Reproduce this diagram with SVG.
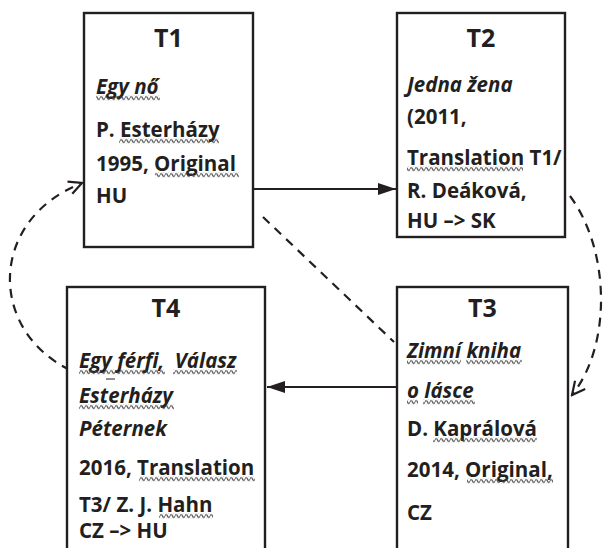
<svg xmlns="http://www.w3.org/2000/svg" width="604" height="548" viewBox="0 0 604 548">
<style>
.box{fill:#fff;stroke:#231f20;stroke-width:2.4}
.title{font-family:"Open Sans","Noto Sans",sans-serif;font-weight:700;font-size:25px;fill:#231f20;text-anchor:middle}
.t{font-family:"Open Sans","Noto Sans",sans-serif;font-weight:700;font-size:20.5px;fill:#231f20}
.i{font-style:italic}
.wv{fill:url(#wave)}
.solid{fill:none;stroke:#231f20;stroke-width:2.2}
.dash{fill:none;stroke:#231f20;stroke-width:2.2;stroke-dasharray:9 7}
</style>
<defs>
<pattern id="wave" x="0" y="0" width="5" height="5" patternUnits="userSpaceOnUse">
<path d="M-0.2,2.5 C0.9,0.4 1.6,0.4 2.5,2.5 S4.1,4.6 5.2,2.5" fill="none" stroke="#3c3c3c" stroke-width="1.1"/>
</pattern>
<marker id="fa" viewBox="0 0 18 12" refX="18" refY="6" markerWidth="18" markerHeight="12" markerUnits="userSpaceOnUse" orient="auto">
<path d="M0,0 L18,6 L0,12 z" fill="#231f20"/>
</marker>
<marker id="oa" viewBox="0 0 16 16" refX="14.5" refY="8" markerWidth="16" markerHeight="16" markerUnits="userSpaceOnUse" orient="auto">
<path d="M1.5,1.5 L14.5,8 L1.5,14.5" fill="none" stroke="#231f20" stroke-width="2.2"/>
</marker>
</defs>
<g id="connectors">
<line class="solid" x1="254" y1="189" x2="396" y2="189" marker-end="url(#fa)"/>
<line class="solid" x1="396" y1="387" x2="267" y2="387" marker-end="url(#fa)"/>
<line class="dash" x1="263" y1="217" x2="394" y2="342"/>
<path class="dash" d="M570,196 C610,250 612,345 572,395" marker-end="url(#oa)"/>
<path class="dash" d="M70,370 C-12,330 -12,220 82,183" marker-end="url(#oa)"/>
</g>
<g id="T1">
<rect class="box" x="84" y="13" width="169" height="234"/>
<text class="title" x="168.5" y="47">T1</text>
<text class="t i" x="96" y="94">Egy nő</text>
<rect class="wv" x="96" y="0" width="64" height="5" transform="translate(0,95.5)"/>
<text class="t" x="96" y="137">P. Esterházy</text>
<rect class="wv" x="119" y="0" width="100" height="5" transform="translate(0,138.5)"/>
<text class="t" x="96" y="171">1995, Original</text>
<rect class="wv" x="155" y="0" width="84" height="5" transform="translate(0,172.5)"/>
<text class="t" x="96" y="203">HU</text>
</g>
<g id="T2">
<rect class="box" x="397" y="13" width="168" height="224"/>
<text class="title" x="481" y="47">T2</text>
<text class="t i" x="407" y="92">Jedna žena</text>
<text class="t" x="407" y="124">(2011,</text>
<text class="t" x="407" y="165">Translation T1/</text>
<rect class="wv" x="407" y="0" width="116" height="5" transform="translate(0,166.5)"/>
<text class="t" x="407" y="198">R. Deáková,</text>
<text class="t" x="407" y="228">HU –&gt; SK</text>
</g>
<g id="T3">
<rect class="box" x="397" y="287" width="171" height="280"/>
<text class="title" x="482.5" y="317">T3</text>
<text class="t i" x="407" y="358">Zimní kniha</text>
<rect class="wv" x="407" y="0" width="54" height="5" transform="translate(0,359.5)"/>
<rect class="wv" x="466" y="0" width="56" height="5" transform="translate(0,359.5)"/>
<text class="t i" x="407" y="398">o lásce</text>
<rect class="wv" x="407" y="0" width="11" height="5" transform="translate(0,399.5)"/>
<rect class="wv" x="423" y="0" width="52" height="5" transform="translate(0,399.5)"/>
<text class="t" x="407" y="436">D. Kaprálová</text>
<rect class="wv" x="433" y="0" width="104" height="5" transform="translate(0,437.5)"/>
<text class="t" x="407" y="477">2014, Original,</text>
<rect class="wv" x="467" y="0" width="86" height="5" transform="translate(0,478.5)"/>
<text class="t" x="407" y="520">CZ</text>
</g>
<g id="T4">
<rect class="box" x="67" y="287" width="198" height="280"/>
<text class="title" x="166" y="317">T4</text>
<text class="t i" x="79" y="368">Egy férfi, <tspan dx="5">Válasz</tspan></text>
<rect class="wv" x="79" y="0" width="86" height="5" transform="translate(0,369.5)"/>
<rect class="wv" x="173" y="0" width="64" height="5" transform="translate(0,369.5)"/>
<text class="t i" x="79" y="403">Esterházy</text>
<rect class="wv" x="79" y="0" width="95" height="5" transform="translate(0,404.5)"/>
<line x1="106" y1="379" x2="115" y2="379" stroke="#231f20" stroke-width="1"/>
<text class="t i" x="79" y="436">Péternek</text>
<text class="t" x="79" y="475">2016, Translation</text>
<rect class="wv" x="139" y="0" width="116" height="5" transform="translate(0,476.5)"/>
<text class="t" x="79" y="512">T3/ Z. J. Hahn</text>
<rect class="wv" x="159" y="0" width="54" height="5" transform="translate(0,513.5)"/>
<text class="t" x="79" y="538">CZ –&gt; HU</text>
</g>
</svg>
